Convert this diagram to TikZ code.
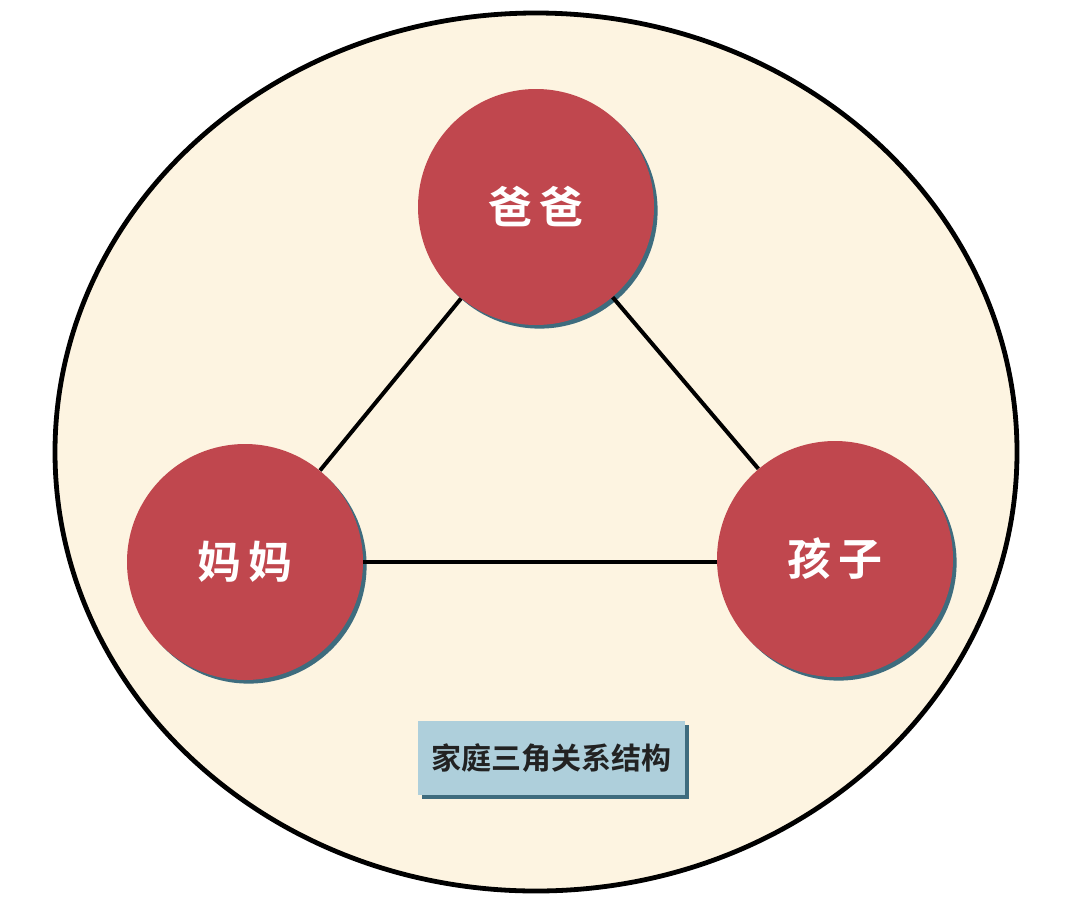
\documentclass[tikz,border=0pt]{standalone}
\usepackage{fontspec}
\newfontfamily\cjk{Noto Sans CJK SC}[BoldFont={Noto Sans CJK SC Bold}]
\usetikzlibrary{positioning}
\usetikzlibrary{shadows}
\definecolor{bgcream}{RGB}{253,244,225}
\definecolor{personred}{RGB}{192,71,78}
\definecolor{shadowteal}{RGB}{62,108,126}
\definecolor{titleblue}{RGB}{174,207,219}
\tikzset{
        familynode/.style={align=center,inner sep=0pt},
        % Family members
        node_person/.style={familynode, circle, fill=personred, text=white, minimum size=118pt,
            font=\cjk\bfseries\fontsize{22pt}{26pt}\selectfont,
            drop shadow={shadow xshift=1.8pt, shadow yshift=-1.8pt, fill=shadowteal, opacity=1}},
        % Title box
        node_title/.style={familynode, rectangle, fill=titleblue, text={rgb,255:red,34;green,34;blue,34},
            minimum width=133.5pt, minimum height=37pt,
            font=\cjk\bfseries\fontsize{15pt}{18pt}\selectfont,
            drop shadow={shadow xshift=2pt, shadow yshift=-2pt, fill=shadowteal, opacity=1}},
        % Relations
        relation/.style={black, line width=2pt}
}
\begin{document}
\begin{tikzpicture}[x=0.5pt, y=-0.5pt]
            \useasboundingbox (0,0) rectangle (1080,900);
            \fill[white] (0,0) rectangle (1080,900);
            \draw[fill=bgcream, line width=2.4pt] (536,452) ellipse [x radius=481, y radius=439];
            \node[node_person] (dad) at (536,207) {爸\,爸};
            \node[node_person] (mom) at (245,562) {妈\,妈};
            \node[node_person] (kid) at (835,559) {孩\,子};
            \node[node_title] (title) at (551,758) {家庭三角关系结构};
            \draw[relation] (dad) -- (mom);
            \draw[relation] (dad) -- (kid);
            \draw[relation] (mom.east) -- (kid.west |- mom.east);
        \end{tikzpicture}
\end{document}
